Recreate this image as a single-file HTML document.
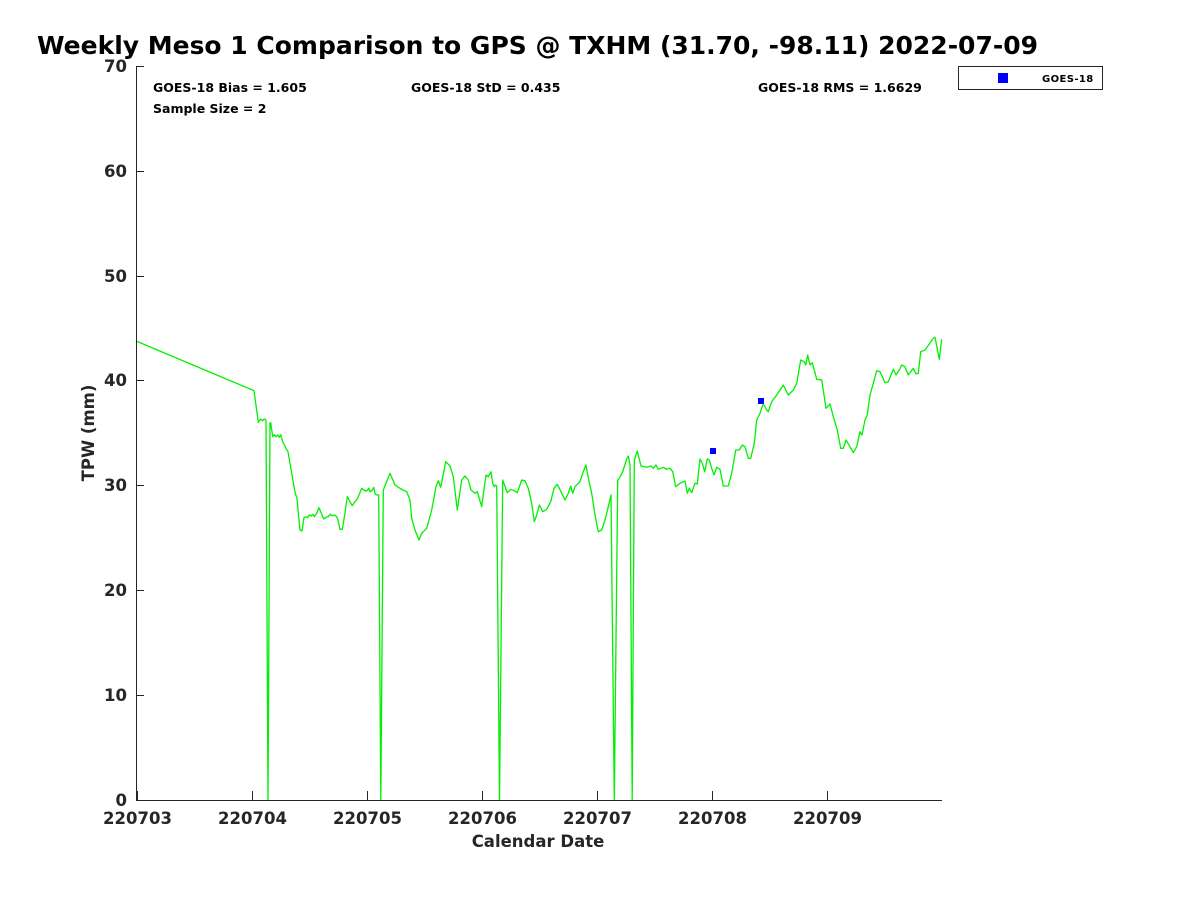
<!DOCTYPE html>
<html>
<head>
<meta charset="utf-8">
<style>
html,body{margin:0;padding:0;background:#fff;}
svg{display:block;}
text{font-family:"DejaVu Sans","Liberation Sans",sans-serif;font-weight:bold;}
</style>
</head>
<body>
<svg width="1200" height="900" viewBox="0 0 1200 900" xmlns="http://www.w3.org/2000/svg">
<rect width="1200" height="900" fill="#fff"/>
<text x="37" y="54" font-size="25" fill="#000" textLength="1001" lengthAdjust="spacingAndGlyphs">Weekly Meso 1 Comparison to GPS @ TXHM (31.70, -98.11) 2022-07-09</text>

<!-- data line -->
<polyline fill="none" stroke="#00f000" stroke-width="1.3" stroke-linejoin="round" points="
136,341 254,390.7 258.3,422.3 260.7,419 262.7,420.7 264.3,419 266,420 268,800 270,423
270.7,422.7 272.7,436.7 274.3,434.7 276,436.7 278,435 279.3,437.3 280.7,434.7 282.7,441.7 284.3,445 286,448.3 288,451.7 290,463.3 292.3,476.7 294,486.7 295.3,493.3 297,498.3 298.3,513.3 300,530 302,531 304,517.7 305.7,516.7 307.7,517.7 309.3,515 311.3,516 312.7,514.3 314.3,516.7 316.7,513.3 319,507.7 321.3,513.3 323.7,519 326,517.3 328.3,516.7 330.3,514.3 332.3,515.7 334.7,515 336.7,516.7 338,520 340,529.3 342.3,529.3 344.7,515 347.3,496.7 350,501.7 352.3,505.7 354.3,502.7 357.3,499 359.3,494.3 361.7,488.3 363.7,490 365.7,491 367.7,490 368.7,488.3 370.3,492 372.3,490 373.7,487.3 375.3,494.3 377,495 378.7,495 380.8,800 383.3,490
390,473.3 395,485 400,488.3 403,490 406.7,491.7 410,500 411.7,518.3 415,530 419,540 421.7,533.3 426.7,528.3 431.7,510 436,486.7 438.3,480.7 440.7,487.3 445.7,461.7 450,466 453.3,476.7 457.3,510 461.7,480 465,476 468.3,480 471,490 475,493.3 477.3,491.7 481.7,506.7 486,475 488.3,476.7 491,471.7 492.7,483.3 494.3,486.7 495.3,485 496.7,486 499.5,800 502.7,480
507.3,492.7 510.7,489.3 514.3,490.7 517.3,492.7 521.7,480 525,480.7 528.3,488.3 531.7,503.3 534.3,521.7 536.7,515 539.3,505 542.7,511.7 546.7,509.3 550.7,501.7 554,488.3 557.3,484.3 561,491.7 565,500 568.3,493.3 570.7,486 572.7,493.3 575,486.7 580,481.7 582.7,473.3 586,465 587.7,475 591.7,493.3 595,515 598.3,531.7 601.7,530 605,520 608.3,506.7 611,495 614.3,800 617.7,480
618.3,480 622.7,471.7 626.7,459 628.3,456 630,465 632.2,800 634.3,460
637.3,451 641,466 646.7,467.3 651,466 653.3,468.3 656,465 658.3,469.3 663.3,467.3 666.7,469.3 670,468.3 672.7,471.7 675.7,486.7 680,483.3 685,481 687.3,493.3 689.3,488.3 691.7,492.7 695,483.3 697.3,484 700,459 702.3,463.3 704.7,471.7 707.3,459 709.3,460 711.7,468.3 714,475 716.7,467.3 720,469.3 723.3,486 728.3,486 731.7,473.3 735.7,450 739.3,450 742.3,445 745,446.7 748.3,458.3 750.7,458.3 754.3,443.3 756.7,420 760,413.3 762.7,405 764,405 766.7,410 768.3,411.7 771.7,401.7 776.7,395 783.3,385 788.3,395 793.3,390 796.7,383.3 800.7,360 804,361.7 805.7,365 807.7,355 810,365 812.3,362.7 816.7,379.3 821.7,380 826,408.3 830,404 833.3,416.7 837.3,430 840.7,448.3 843.3,448.3 846,440 850,446.7 853.3,452.7 856.7,446.7 860,431.7 862,435 865,420 867.3,415 870,395 873.3,383.3 876.7,370.7 880,371.7 885,382.7 888.3,381.7 893.3,369.3 896,375 899.3,370 901.7,365 905,366.7 908.3,375 913.3,368.3 916,374 918.3,373.3 920.7,351.7 925,350 933.3,338.3 935,337.3 939.3,359.3 941.7,339.3"/>

<!-- markers -->
<rect x="710" y="448" width="6" height="6" fill="#0000ff"/>
<rect x="758" y="398" width="6" height="6" fill="#0000ff"/>

<!-- axes -->
<g stroke="#262626" stroke-width="1" fill="none">
<line x1="136.5" y1="66" x2="136.5" y2="800.5"/>
<line x1="136" y1="800.5" x2="942" y2="800.5"/>
<line x1="136" y1="66.5" x2="144" y2="66.5"/>
<line x1="136" y1="171.5" x2="144" y2="171.5"/>
<line x1="136" y1="276.5" x2="144" y2="276.5"/>
<line x1="136" y1="380.5" x2="144" y2="380.5"/>
<line x1="136" y1="485.5" x2="144" y2="485.5"/>
<line x1="136" y1="590.5" x2="144" y2="590.5"/>
<line x1="136" y1="695.5" x2="144" y2="695.5"/>
<line x1="137.5" y1="800" x2="137.5" y2="791"/>
<line x1="252.5" y1="800" x2="252.5" y2="791"/>
<line x1="367.5" y1="800" x2="367.5" y2="791"/>
<line x1="482.5" y1="800" x2="482.5" y2="791"/>
<line x1="597.5" y1="800" x2="597.5" y2="791"/>
<line x1="712.5" y1="800" x2="712.5" y2="791"/>
<line x1="827.5" y1="800" x2="827.5" y2="791"/>
</g>

<g font-size="16.5" fill="#262626" text-anchor="end">
<text x="127" y="72">70</text>
<text x="127" y="177">60</text>
<text x="127" y="282">50</text>
<text x="127" y="386">40</text>
<text x="127" y="491">30</text>
<text x="127" y="596">20</text>
<text x="127" y="701">10</text>
<text x="127" y="806">0</text>
</g>
<g font-size="16.5" fill="#262626" text-anchor="middle">
<text x="137.5" y="824">220703</text>
<text x="252.5" y="824">220704</text>
<text x="367.5" y="824">220705</text>
<text x="482.5" y="824">220706</text>
<text x="597.5" y="824">220707</text>
<text x="712.5" y="824">220708</text>
<text x="827.5" y="824">220709</text>
<text x="538" y="847">Calendar Date</text>
<text x="0" y="0" transform="translate(94,433) rotate(-90)">TPW (mm)</text>
</g>

<g font-size="12.5" fill="#000">
<text x="153" y="92">GOES-18 Bias = 1.605</text>
<text x="153" y="113">Sample Size = 2</text>
<text x="411" y="92">GOES-18 StD = 0.435</text>
<text x="758" y="92">GOES-18 RMS = 1.6629</text>
</g>

<!-- legend -->
<rect x="958.5" y="66.5" width="144" height="23" fill="#fff" stroke="#262626" stroke-width="1"/>
<rect x="998" y="73" width="10" height="10" fill="#0000ff"/>
<text x="1042" y="82" font-size="10" fill="#000" letter-spacing="0.4">GOES-18</text>
</svg>
</body>
</html>
